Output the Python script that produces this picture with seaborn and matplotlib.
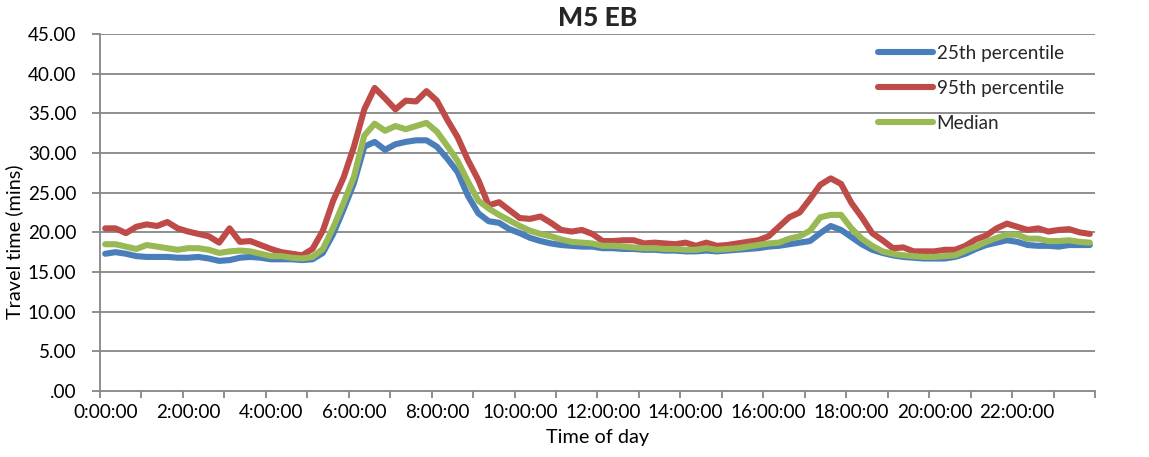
import numpy as np
import pandas as pd
import matplotlib
matplotlib.use("Agg")
import matplotlib.pyplot as plt
import seaborn as sns
from matplotlib.lines import Line2D

# ---------------- data (15-minute slots, 96 per day) ----------------
p25 = [17.3, 17.5, 17.3, 17.0, 16.9, 16.9, 16.9, 16.8, 16.8, 16.9, 16.7, 16.4,
       16.5, 16.8, 16.9, 16.8, 16.6, 16.6, 16.6, 16.5, 16.6, 17.4, 19.8, 22.9,
       26.2, 30.8, 31.4, 30.4, 31.1, 31.4, 31.6, 31.6, 30.8, 29.3, 27.6, 24.6,
       22.4, 21.4, 21.2, 20.4, 19.9, 19.3, 18.9, 18.6, 18.4, 18.3, 18.2, 18.2,
       18.0, 18.0, 17.9, 17.9, 17.8, 17.8, 17.7, 17.7, 17.6, 17.6, 17.7, 17.6,
       17.7, 17.8, 17.9, 18.0, 18.2, 18.3, 18.5, 18.7, 18.9, 19.9, 20.8, 20.3,
       19.4, 18.5, 17.8, 17.4, 17.1, 16.9, 16.8, 16.7, 16.7, 16.7, 16.9, 17.3,
       17.9, 18.4, 18.7, 19.0, 18.8, 18.4, 18.3, 18.3, 18.2, 18.4, 18.4, 18.4]

p95 = [20.5, 20.5, 19.9, 20.7, 21.0, 20.8, 21.3, 20.5, 20.1, 19.8, 19.5, 18.7,
       20.5, 18.8, 18.9, 18.4, 17.9, 17.5, 17.3, 17.1, 17.9, 20.2, 24.0, 26.9,
       30.8, 35.5, 38.2, 36.9, 35.5, 36.6, 36.5, 37.8, 36.6, 34.2, 32.0, 29.1,
       26.6, 23.4, 23.8, 22.8, 21.8, 21.7, 22.0, 21.2, 20.3, 20.1, 20.3, 19.8,
       18.9, 18.9, 19.0, 19.0, 18.6, 18.7, 18.6, 18.5, 18.7, 18.3, 18.7, 18.3,
       18.4, 18.6, 18.8, 19.0, 19.5, 20.7, 21.9, 22.5, 24.2, 26.0, 26.8, 26.1,
       23.7, 21.9, 19.9, 19.0, 18.0, 18.1, 17.6, 17.6, 17.6, 17.8, 17.8, 18.3,
       19.1, 19.6, 20.5, 21.1, 20.7, 20.3, 20.5, 20.1, 20.3, 20.4, 20.0, 19.8]

median = [18.5, 18.5, 18.2, 17.9, 18.4, 18.2, 18.0, 17.8, 18.0, 18.0, 17.8, 17.4,
          17.6, 17.7, 17.6, 17.3, 17.0, 17.0, 16.8, 16.7, 16.9, 17.9, 20.6, 23.7,
          27.0, 32.2, 33.7, 32.8, 33.4, 33.0, 33.4, 33.8, 32.7, 30.9, 29.0, 26.4,
          24.0, 23.0, 22.2, 21.5, 20.8, 20.2, 19.8, 19.5, 19.1, 18.8, 18.7, 18.6,
          18.3, 18.3, 18.2, 18.1, 18.0, 18.0, 17.9, 17.9, 17.8, 17.8, 18.0, 17.8,
          17.9, 18.0, 18.2, 18.4, 18.6, 18.7, 19.2, 19.5, 20.2, 21.9, 22.2, 22.2,
          20.5, 19.2, 18.3, 17.6, 17.3, 17.1, 17.0, 16.9, 16.9, 17.0, 17.1, 17.7,
          18.2, 18.8, 19.3, 19.7, 19.7, 19.2, 19.2, 18.9, 18.9, 19.0, 18.8, 18.7]

series_names = ["25th percentile", "95th percentile", "Median"]
series_colors = ["#4A7EBB", "#BE4B48", "#98B954"]
x_tick_labels = ["0:00:00", "2:00:00", "4:00:00", "6:00:00", "8:00:00",
                 "10:00:00", "12:00:00", "14:00:00", "16:00:00", "18:00:00",
                 "20:00:00", "22:00:00"]
y_ticks = [0, 5, 10, 15, 20, 25, 30, 35, 40, 45]

slots = np.arange(len(p25))
df = pd.concat([
    pd.DataFrame({"slot": slots, "value": vals, "series": name})
    for name, vals in zip(series_names, [p25, p95, median])
], ignore_index=True)

# ---------------- figure ----------------
sns.set_theme(style="white")
plt.rcParams["font.family"] = ["Lato", "DejaVu Sans"]

W, H = 1149, 457
fig = plt.figure(figsize=(W / 100, H / 100), dpi=100)
ax = fig.add_axes([100 / W, 1 - 391 / H, 995 / W, 357 / H])

grid_c = "#868686"
for yv in y_ticks[1:]:
    ax.axhline(yv, color=grid_c, lw=1.3, zorder=0)

sns.lineplot(data=df, x="slot", y="value", hue="series",
             hue_order=series_names, palette=series_colors,
             linewidth=4.4, ax=ax, legend=False, sort=False)
for ln in ax.get_lines():
    ln.set_solid_capstyle("round")
    ln.set_solid_joinstyle("round")

ax.set_xlim(-0.5, len(slots) - 0.5)
ax.set_ylim(0, 45)

# x axis: tick marks each hour (4 slots), labels every 2 hours
ax.set_xticks(np.arange(-0.5, len(slots), 4))
ax.set_xticklabels([])
ax.set_xticks(np.arange(0, len(slots), 8), minor=True)
ax.set_xticklabels(x_tick_labels, minor=True)
ax.tick_params(axis="x", which="major", length=5, width=1.3, color=grid_c,
               direction="out", bottom=True)
ax.tick_params(axis="x", which="minor", length=0, pad=9, labelsize=13.6,
               colors="black")

ax.set_yticks(y_ticks)
ax.set_yticklabels([("%.2f" % v) if v != 0 else ".00" for v in y_ticks])
ax.tick_params(axis="y", length=6, width=1.3, color=grid_c, direction="out",
               left=True, pad=11, labelsize=13.6, labelcolor="black")

for s in ["top", "right"]:
    ax.spines[s].set_visible(False)
for s in ["left", "bottom"]:
    ax.spines[s].set_color(grid_c)
    ax.spines[s].set_linewidth(1.3)

ax.set_xlabel("Time of day", fontsize=14.3, color="black", labelpad=6)
ax.set_ylabel("Travel time (mins)", fontsize=14.3, color="black", va="center")
ax.yaxis.set_label_coords((14 - 100) / 995, (391 - 242) / 357)
ax.set_title("M5 EB", fontsize=19, fontweight="black", pad=6)

handles = [Line2D([0], [0], color=c, lw=4.4, solid_capstyle="round")
           for c in series_colors]
ax.legend(handles, series_names, loc="upper left",
          bbox_to_anchor=(878 / W, 1 - 45 / H), bbox_transform=fig.transFigure,
          frameon=False, fontsize=13.6, handlelength=2.9, handletextpad=0.2,
          labelspacing=0.95, borderpad=0, borderaxespad=0)

fig.savefig("out.png", dpi=100, facecolor="white")
